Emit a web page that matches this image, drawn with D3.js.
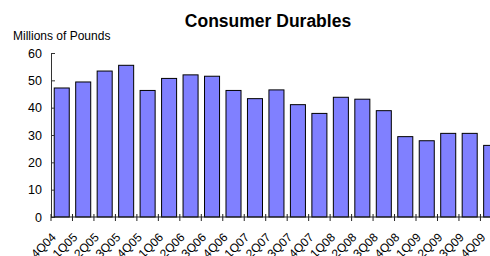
<!DOCTYPE html>
<html>
  <head>
    <meta charset="utf-8">
    <title>Consumer Durables</title>
    <style>
      body { margin: 0; background: #fff; }
      svg { display: block; font-family: "Liberation Sans", Arial, sans-serif; }
    </style>
  </head>
  <body>
    <svg id="chart" width="490" height="256"></svg>

    <script type="text/javascript" src="https://cdnjs.cloudflare.com/ajax/libs/d3/7.8.5/d3.min.js"></script>
    <script type="text/javascript">
      // quarters and values, millions of pounds
      var quarters = ['4Q04', '1Q05', '2Q05', '3Q05', '4Q05', '1Q06', '2Q06', '3Q06', '4Q06',
                      '1Q07', '2Q07', '3Q07', '4Q07', '1Q08', '2Q08', '3Q08', '4Q08',
                      '1Q09', '2Q09', '3Q09', '4Q09'];
      var durables = [47.2, 49.4, 53.4, 55.5, 46.3, 50.7, 52.0, 51.5, 46.3,
                      43.3, 46.5, 41.1, 37.9, 43.8, 43.1, 38.9, 29.4,
                      27.9, 30.6, 30.6, 26.2];
      var yTicks = [0, 10, 20, 30, 40, 50, 60];

      var svg = d3.select('#chart');

      var x = d3.scaleBand()
        .domain(quarters)
        .range([51, 501.9])
        .paddingInner(0.3)
        .paddingOuter(0.15);

      var y = d3.scaleLinear()
        .domain([0, 60])
        .range([217, 53]);

      // title + unit label
      svg.append('text')
        .attr('x', 268).attr('y', 26.5)
        .attr('text-anchor', 'middle')
        .style('font-weight', 'bold')
        .style('font-size', '17.5px')
        .text('Consumer Durables');

      svg.append('text')
        .attr('x', 13).attr('y', 39.5)
        .style('font-size', '12px')
        .text('Millions of Pounds');

      // bars
      svg.append('g').selectAll('rect')
        .data(durables)
        .enter().append('rect')
        .attr('x', function (d, i) { return x(quarters[i]); })
        .attr('y', function (d) { return y(d); })
        .attr('width', x.bandwidth())
        .attr('height', function (d) { return y(0) - y(d); })
        .style('fill', '#8080ff')
        .style('stroke', '#000')
        .style('stroke-width', 1);

      // y axis, ticks cross the line
      var yAxis = svg.append('g')
        .attr('transform', 'translate(51,0)')
        .call(d3.axisLeft(y).tickValues(yTicks).tickSize(4).tickPadding(5).tickSizeOuter(0));
      yAxis.selectAll('.tick line').attr('x2', 4);
      yAxis.selectAll('text').style('font-size', '12.5px').attr('fill', '#000');
      yAxis.selectAll('line, path').attr('stroke', '#333');

      // x axis: ticks sit on the category boundaries
      var step = x.step();
      var bounds = d3.range(quarters.length + 1).map(function (k) { return x.range()[0] + k * step; });
      var xAxis = svg.append('g');
      xAxis.append('line')
        .attr('x1', x.range()[0]).attr('x2', x.range()[1])
        .attr('y1', y(0)).attr('y2', y(0))
        .attr('stroke', '#222');
      xAxis.selectAll('line.tk')
        .data(bounds)
        .enter().append('line')
        .attr('class', 'tk')
        .attr('x1', function (d) { return d; }).attr('x2', function (d) { return d; })
        .attr('y1', y(0) - 3).attr('y2', y(0) + 4)
        .attr('stroke', '#222');

      xAxis.selectAll('text')
        .data(quarters)
        .enter().append('text')
        .attr('transform', function (d) {
          return 'translate(' + (x(d) + x.bandwidth() / 2 - 5) + ',' + 238 + ') rotate(-45)';
        })
        .attr('text-anchor', 'end')
        .style('font-size', '12px')
        .text(function (d) { return d; });
    </script>
  </body>
</html>
